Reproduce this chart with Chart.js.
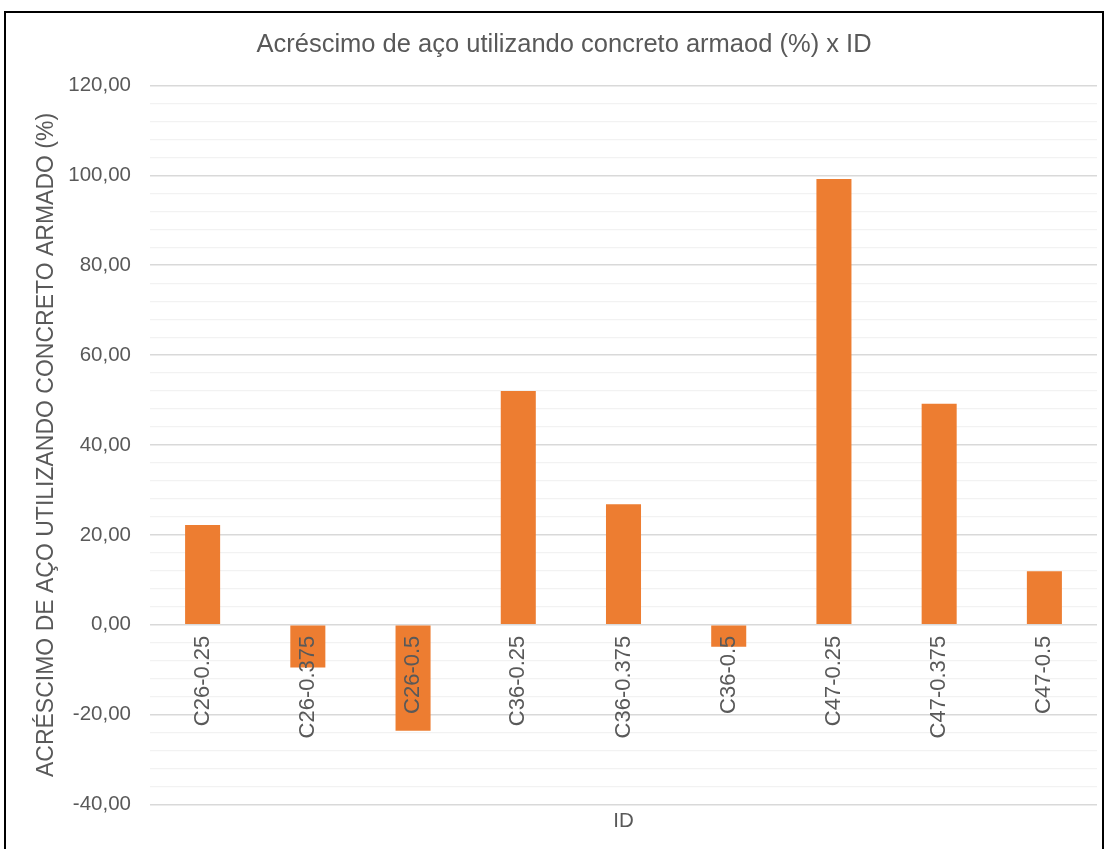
<!DOCTYPE html>
<html>
<head>
<meta charset="utf-8">
<script src="https://cdn.jsdelivr.net/npm/chart.js@4"></script>
<style>
  html, body { margin: 0; padding: 0; background: #ffffff; overflow: hidden; }
  #wrap { position: relative; width: 1107px; height: 849px; }
  #frame { position: absolute; left: 4px; top: 11px; width: 1100px; height: 900px; border: 2px solid #000; box-sizing: border-box; pointer-events: none; }
  canvas { position: absolute; left: 0; top: 0; }
</style>
</head>
<body>
<div id="wrap">
  <canvas id="chart" width="1107" height="849"></canvas>
  <div id="frame"></div>
</div>
<script>
// Categories (IDs) and steel increase values in percent
const categories = ['C26-0.25', 'C26-0.375', 'C26-0.5', 'C36-0.25', 'C36-0.375', 'C36-0.5', 'C47-0.25', 'C47-0.375', 'C47-0.5'];
const acrescimo = [22.2, -9.5, -23.6, 52.0, 26.8, -4.9, 99.2, 49.2, 11.9];

// Axis range and label step
const yMin = -40;
const yMax = 120;
const yMajor = 20;
const yMinor = 4;

const textColor = '#595959';
const fontFamily = '"Liberation Sans", Arial, sans-serif';

const isMajor = v => Math.abs(Math.round(v) % yMajor) === 0;

new Chart(document.getElementById('chart'), {
  type: 'bar',
  data: {
    labels: categories,
    datasets: [{
      label: 'Acréscimo (%)',
      data: acrescimo,
      backgroundColor: '#ED7D31',
      borderWidth: 0,
      categoryPercentage: 1,
      barPercentage: 0.333
    }]
  },
  options: {
    responsive: false,
    animation: false,
    layout: { padding: { left: 31, right: 10, top: 0, bottom: 15 } },
    plugins: {
      legend: { display: false },
      tooltip: { enabled: false },
      title: {
        display: true,
        text: 'Acréscimo de aço utilizando concreto armaod (%) x ID',
        color: textColor,
        font: { family: fontFamily, size: 25.5, weight: 'normal' },
        padding: { top: 30, bottom: 25 }
      }
    },
    scales: {
      x: {
        type: 'category',
        position: { y: 0 },
        grid: { display: false, drawTicks: false },
        border: { display: false },
        ticks: {
          z: 1, // category labels sit on top of the bars
          color: textColor,
          font: { family: fontFamily, size: 22 },
          autoSkip: false,
          minRotation: 90,
          maxRotation: 90,
          padding: 11
        }
      },
      xTitle: {
        type: 'category',
        position: 'bottom',
        labels: categories,
        grid: { display: false, drawTicks: false },
        border: { display: false },
        ticks: { display: false },
        title: {
          display: true,
          text: 'ID',
          color: textColor,
          font: { family: fontFamily, size: 20.5 },
          padding: { top: 5, bottom: 0 }
        }
      },
      y: {
        min: yMin,
        max: yMax,
        border: { display: false },
        grid: {
          drawTicks: false,
          color: ctx => isMajor(ctx.tick.value) ? '#d9d9d9' : '#f2f2f2',
          lineWidth: ctx => isMajor(ctx.tick.value) ? 1.6 : 1.3
        },
        ticks: {
          stepSize: yMinor,
          autoSkip: false,
          padding: 19,
          color: textColor,
          font: { family: fontFamily, size: 20.5 },
          callback: v => isMajor(v) ? v.toFixed(2).replace('.', ',') : ''
        },
        title: {
          display: true,
          text: 'ACRÉSCIMO DE AÇO UTILIZANDO CONCRETO ARMADO (%)',
          color: textColor,
          font: { family: fontFamily, size: 23 },
          padding: { top: 2, bottom: 0 }
        },
        afterFit: scale => { scale.width = 150 - 31; }
      }
    }
  }
});
</script>
</body>
</html>
